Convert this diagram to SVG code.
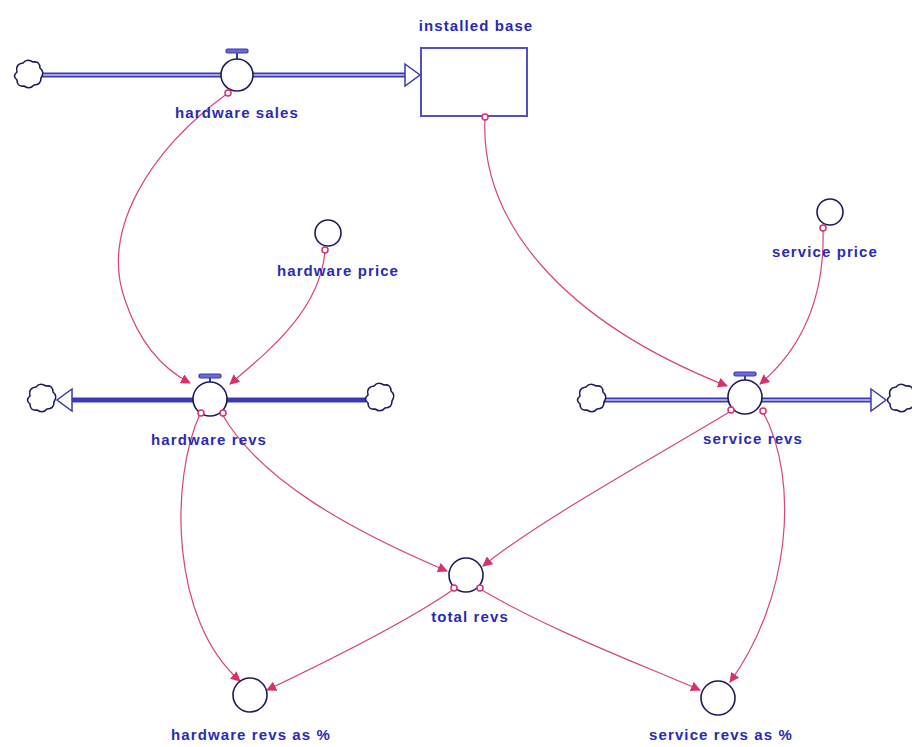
<svg xmlns="http://www.w3.org/2000/svg" width="912" height="747" viewBox="0 0 912 747">
  <defs>
    <style>
      .lbl { font-family: "Liberation Sans", Arial, sans-serif; font-size: 15px; font-weight: bold; letter-spacing: 1.1px; fill: #2a2ab8; text-anchor: middle; }
      .aux { fill: #ffffff; stroke: #1c1c5c; stroke-width: 1.6; }
      .pipe { fill: none; stroke: #3a3ab4; stroke-width: 5; }
      .pipe-in { fill: none; stroke: #c8c8f4; stroke-width: 1.4; }
      .cloud { fill: #ffffff; stroke: #1c1c5c; stroke-width: 1.6; }
      .link { fill: none; stroke: #d8437c; stroke-width: 1.2; marker-end: url(#tip); }
      .org { fill: #ffffff; stroke: #d8306e; stroke-width: 1.5; }
      .valve { fill: #ffffff; stroke: #1c1c5c; stroke-width: 1.6; }
      .tap { fill: #6a6ad8; stroke: #3a3ab4; stroke-width: 1.2; }
    </style>
    <marker id="tip" viewBox="0 0 10 10" refX="9" refY="5" markerWidth="10" markerHeight="10" markerUnits="userSpaceOnUse" orient="auto">
      <path d="M0,0 L10,5 L0,10 z" fill="#d8306e"/>
    </marker>
    <!-- cloud: scalloped ring centred on 0,0 -->
    <path id="cloudShape" d="M-10,-4 q-2,-8 6,-9 q4,-5 10,-1 q7,-1 7,6 q5,4 1,10 q0,7 -7,7 q-4,5 -10,1 q-7,1 -7,-6 q-5,-4 0,-8 z"/>
    <!-- valve tap: bar plus stem -->
    <g id="tapShape">
      <rect x="-11" y="-26" width="22" height="4" rx="1.5" class="tap"/>
      <line x1="0" y1="-22" x2="0" y2="-16" stroke="#3a3ab4" stroke-width="2"/>
    </g>
  </defs>

  <rect width="912" height="747" fill="#ffffff"/>

  <!-- flow pipes -->
  <g id="pipes">
    <line x1="40" y1="75" x2="406" y2="75" class="pipe"/>
    <line x1="40" y1="75" x2="406" y2="75" class="pipe-in"/>
    <path d="M405,64 L420,75 L405,86 z" fill="#ffffff" stroke="#3a3ab4" stroke-width="1.5"/>

    <line x1="72" y1="400" x2="366" y2="400" class="pipe"/>
    <path d="M72,389 L57,400 L72,411 z" fill="#ffffff" stroke="#3a3ab4" stroke-width="1.5"/>

    <line x1="603" y1="400" x2="872" y2="400" class="pipe"/>
    <line x1="603" y1="400" x2="872" y2="400" class="pipe-in"/>
    <path d="M871,389 L886,400 L871,411 z" fill="#ffffff" stroke="#3a3ab4" stroke-width="1.5"/>
  </g>

  <!-- connectors -->
  <g id="connectors">
    <path d="M228,93 C150,150 100,230 125,300 C140,345 165,370 190,383" class="link"/>
    <path d="M325,251 C320,310 270,350 230,384" class="link"/>
    <path d="M485,118 C480,220 560,320 727,386" class="link"/>
    <path d="M823,229 C825,300 800,350 760,384" class="link"/>
    <path d="M200,414 C170,480 170,620 240,681" class="link"/>
    <path d="M222,414 C260,480 350,530 447,571" class="link"/>
    <path d="M731,411 C650,460 540,520 483,566" class="link"/>
    <path d="M763,412 C800,480 790,600 730,682" class="link"/>
    <path d="M454,589 C410,620 330,660 267,690" class="link"/>
    <path d="M480,589 C550,630 630,660 700,690" class="link"/>
  </g>

  <!-- stock -->
  <g id="installed-base">
    <rect x="421" y="48" width="106" height="68" fill="#ffffff" stroke="#5050c4" stroke-width="2"/>
    <text x="476" y="31" class="lbl">installed base</text>
  </g>

  <!-- sources and sinks -->
  <g id="cloud-hw-sales-src"><use href="#cloudShape" x="27" y="76" class="cloud"/></g>
  <g id="cloud-hw-revs-sink"><use href="#cloudShape" x="40" y="400" class="cloud"/></g>
  <g id="cloud-hw-revs-src"><use href="#cloudShape" x="378" y="399" class="cloud"/></g>
  <g id="cloud-svc-revs-src"><use href="#cloudShape" x="590" y="400" class="cloud"/></g>
  <g id="cloud-svc-revs-sink"><use href="#cloudShape" x="900" y="400" class="cloud"/></g>

  <!-- flows -->
  <g id="hardware-sales">
    <use href="#tapShape" x="237" y="75"/>
    <circle cx="237" cy="75" r="16" class="valve"/>
    <text x="237" y="118" class="lbl">hardware sales</text>
  </g>
  <g id="hardware-revs">
    <use href="#tapShape" x="210" y="400"/>
    <circle cx="210" cy="399" r="17" class="valve"/>
    <text x="209" y="445" class="lbl">hardware revs</text>
  </g>
  <g id="service-revs">
    <use href="#tapShape" x="745" y="398"/>
    <circle cx="745" cy="397" r="17" class="valve"/>
    <text x="753" y="444" class="lbl">service revs</text>
  </g>

  <!-- auxiliaries -->
  <g id="hardware-price">
    <circle cx="328" cy="233" r="13" class="aux"/>
    <text x="338" y="276" class="lbl">hardware price</text>
  </g>
  <g id="service-price">
    <circle cx="830" cy="212" r="13" class="aux"/>
    <text x="825" y="257" class="lbl">service price</text>
  </g>
  <g id="total-revs">
    <circle cx="466" cy="575" r="17" class="aux"/>
    <text x="470" y="622" class="lbl">total revs</text>
  </g>
  <g id="hardware-revs-pct">
    <circle cx="250" cy="695" r="17" class="aux"/>
    <text x="251" y="740" class="lbl">hardware revs as  %</text>
  </g>
  <g id="service-revs-pct">
    <circle cx="718" cy="698" r="17" class="aux"/>
    <text x="721" y="740" class="lbl">service revs as  %</text>
  </g>

  <!-- connector origins -->
  <g id="origins">
    <circle cx="228" cy="93" r="3" class="org"/>
    <circle cx="485" cy="117" r="3" class="org"/>
    <circle cx="325" cy="250" r="3" class="org"/>
    <circle cx="823" cy="228" r="3" class="org"/>
    <circle cx="201" cy="413" r="3" class="org"/>
    <circle cx="223" cy="413" r="3" class="org"/>
    <circle cx="731" cy="410" r="3" class="org"/>
    <circle cx="763" cy="411" r="3" class="org"/>
    <circle cx="454" cy="588" r="3" class="org"/>
    <circle cx="480" cy="588" r="3" class="org"/>
  </g>
</svg>
